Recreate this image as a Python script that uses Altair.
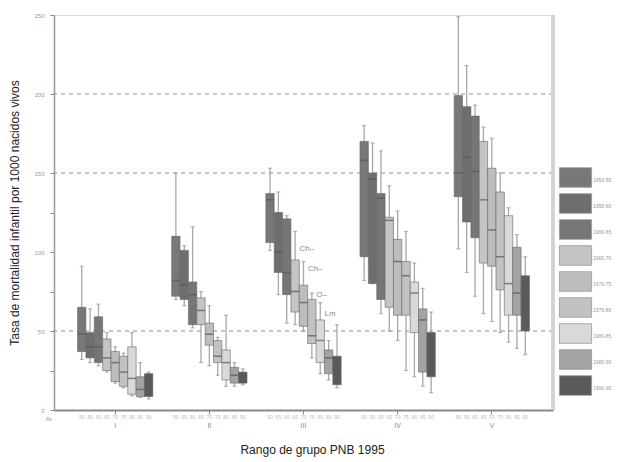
import altair as alt
import pandas as pd

periods = ["1950-55", "1955-60", "1960-65", "1965-70", "1970-75",
           "1975-80", "1980-85", "1985-90", "1990-95"]
groups = ["I", "II", "III", "IV", "V"]
colors = ["#787878", "#6e6e6e", "#767676", "#c4c4c4", "#bdbdbd",
          "#c2c2c2", "#d9d9d9", "#a3a3a3", "#5a5a5a"]

# per group: lists over periods (whisker low, q1, median, q3, whisker high)
lo = {
    "I":   [32, 30, 28, 24, 17, 14, 9, 8, 7],
    "II":  [70, 66, 52, 30, 28, 22, 15, 15, 16],
    "III": [101, 73, 55, 54, 50, 33, 23, 19, 14],
    "IV":  [82, 80, 61, 50, 44, 25, 21, 15, 11],
    "V":   [102, 87, 72, 61, 56, 49, 43, 39, 35],
}
q1 = {
    "I":   [37, 33, 30, 25, 18, 15, 10, 8.5, 8.5],
    "II":  [72, 70, 54, 54, 41, 30, 19, 17, 17],
    "III": [106, 87, 73, 62, 53, 42, 30, 23, 16],
    "IV":  [97, 80, 70, 65, 60, 60, 49, 24, 21],
    "V":   [135, 119, 109, 93, 91, 76, 60, 60, 50],
}
med = {
    "I":   [48, 40, 40, 33, 30, 24, 20, 13, 13],
    "II":  [82, 79, 73, 63, 48, 34, 30, 22, 21],
    "III": [133, 100, 87, 75, 68, 47, 44, 33, 23],
    "IV":  [158, 146, 134, 120, 94, 85, 74, 57, 35],
    "V":   [150, 160, 151, 133, 114, 97, 80, 74, 56],
}
q3 = {
    "I":   [65, 49, 59, 45, 37, 34, 40, 21, 23],
    "II":  [110, 101, 81, 71, 55, 44, 38, 27, 24],
    "III": [137, 125, 121, 95, 79, 70, 57, 38, 34],
    "IV":  [170, 150, 137, 122, 108, 94, 81, 64, 49],
    "V":   [199, 192, 186, 170, 153, 138, 123, 103, 85],
}
hi = {
    "I":   [91, 64, 67, 49, 40, 36, 49, 30, 24],
    "II":  [150, 104, 116, 75, 66, 46, 60, 30, 26],
    "III": [153, 138, 123, 113, 94, 74, 68, 44, 54],
    "IV":  [180, 169, 164, 142, 126, 113, 93, 77, 62],
    "V":   [249, 218, 193, 179, 172, 150, 128, 111, 97],
}
short_labels = ["50", "55", "60", "65", "70", "75", "80", "85", "90"]

grid_vals = [50, 150, 200]
note_group = ["III", "III", "III", "III"]
note_period = ["1970-75", "1975-80", "1980-85", "1985-90"]
note_value = [102, 89, 73, 61]
note_text = ["Ch\u2013", "Ch\u2013", "O\u2013", "Lm"]

rows = []
for g in groups:
    for i, p in enumerate(periods):
        rows.append(dict(group=g, period=p, lo=lo[g][i], q1=q1[g][i],
                         med=med[g][i], q3=q3[g][i], hi=hi[g][i],
                         short=short_labels[i]))
df = pd.DataFrame(rows)
grid_df = pd.DataFrame({"v": grid_vals})
notes_df = pd.DataFrame({"group": note_group, "period": note_period,
                         "v": note_value, "t": note_text})

W, H = 499, 395
FONT = "Liberation Sans"

xenc = alt.X("group:N", sort=groups,
             scale=alt.Scale(paddingInner=0.2, paddingOuter=0.25),
             axis=alt.Axis(title="Rango de grupo PNB 1995", labelAngle=0,
                           labelFontSize=7, labelColor="#888", labelPadding=7,
                           tickSize=4, tickColor="#888", domainColor="#888",
                           domainWidth=2, titleFontSize=12, titleColor="#222",
                           titleFontWeight="normal", titlePadding=16,
                           titleX=258, titleAlign="center",
                           titleFont=FONT, labelFont=FONT))
xoff = alt.XOffset("period:N", sort=periods,
                   scale=alt.Scale(paddingInner=0, paddingOuter=0))
yscale = alt.Scale(domain=[0, 250], nice=False, zero=True)

base = alt.Chart(df)

grid = alt.Chart(grid_df).mark_rule(strokeDash=[4, 4], color="#8c8c8c",
                                    strokeWidth=1.2).encode(
    y=alt.Y("v:Q", scale=yscale))

frame = alt.Chart(grid_df).mark_rule(color="#d2d2d2", strokeWidth=3).encode(
    x=alt.value(W), y=alt.value(0), y2=alt.value(H))

whisk = base.mark_rule(color="#a8a8a8", strokeWidth=1.3).encode(
    x=xenc, xOffset=xoff,
    y=alt.Y("lo:Q", scale=yscale,
            axis=alt.Axis(title="Tasa de mortalidad infantil por 1000 nacidos vivos",
                          values=[0, 25, 50, 75, 100, 125, 150, 200, 250],
                          labelExpr="datum.value % 50 == 0 ? datum.label : ''",
                          labelFontSize=6, labelColor="#999", labelPadding=6,
                          tickSize=4, tickColor="#888", domainColor="#999",
                          domainWidth=1.5, grid=False, titleFontSize=12,
                          titleColor="#222", titleFontWeight="normal",
                          titlePadding=12, titleFont=FONT, labelFont=FONT)),
    y2="hi:Q")

cap_lo = base.mark_tick(color="#999", size=4, thickness=1.2).encode(
    x=xenc, xOffset=xoff, y=alt.Y("lo:Q", scale=yscale))
cap_hi = base.mark_tick(color="#999", size=4, thickness=1.2).encode(
    x=xenc, xOffset=xoff, y=alt.Y("hi:Q", scale=yscale))

box = base.mark_bar(stroke="#666", strokeWidth=0.6).encode(
    x=xenc, xOffset=xoff,
    y=alt.Y("q1:Q", scale=yscale), y2="q3:Q",
    color=alt.Color("period:N", sort=periods,
                    scale=alt.Scale(domain=periods, range=colors),
                    legend=alt.Legend(
                        title=None, orient="none", legendX=507, legendY=148,
                        symbolType="M-1.15,-0.7H1.15V0.7H-1.15Z",
                        symbolSize=784, symbolStrokeColor="#999",
                        symbolStrokeWidth=0.8, labelFontSize=5,
                        labelColor="#999", labelBaseline="top",
                        labelOffset=3, rowPadding=0, padding=0,
                        labelFont=FONT)))

median = base.mark_tick(color="#555", size=8, thickness=1.5).encode(
    x=xenc, xOffset=xoff, y=alt.Y("med:Q", scale=yscale))

ticklab = base.mark_text(fontSize=5, color="#bbb", font=FONT,
                         baseline="middle").encode(
    x=xenc, xOffset=xoff, y=alt.value(H + 7), text="short:N")

rowlab = alt.Chart(grid_df.head(1)).mark_text(
    fontSize=5, color="#999", font=FONT, align="right").encode(
    x=alt.value(-2), y=alt.value(H + 9), text=alt.value("Rs"))

notes = alt.Chart(notes_df).mark_text(fontSize=8, color="#888", font=FONT,
                                      align="left", dx=-4,
                                      baseline="middle").encode(
    x=alt.X("group:N", sort=groups), xOffset=xoff,
    y=alt.Y("v:Q", scale=yscale), text="t:N")

chart = alt.layer(grid, frame, whisk, cap_lo, cap_hi, box, median,
                  ticklab, rowlab, notes).properties(
    width=W, height=H,
    padding={"left": 0, "top": 4, "right": 2, "bottom": 5},
).configure_view(stroke=None).configure(background="white")

chart.save("out.html", embed_options={"renderer": "svg", "actions": False})
